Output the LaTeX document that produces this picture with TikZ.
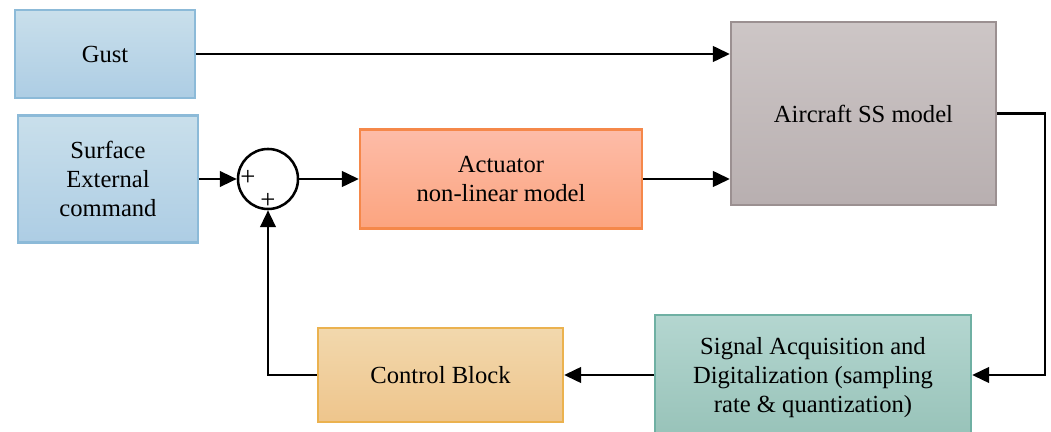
\documentclass[tikz,border=0pt]{standalone}
\usepackage{fontspec}
\setmainfont{Liberation Serif}
\usetikzlibrary{arrows.meta,calc}

\definecolor{blueTop}{HTML}{C9DFEB}
\definecolor{blueBot}{HTML}{ADCDE4}
\definecolor{blueLine}{HTML}{8CBAD8}
\definecolor{orangeTop}{HTML}{FDBCA8}
\definecolor{orangeBot}{HTML}{FCA47F}
\definecolor{orangeLine}{HTML}{F5884A}
\definecolor{grayTop}{HTML}{CDC6C6}
\definecolor{grayBot}{HTML}{B8AFB0}
\definecolor{grayLine}{HTML}{9B9091}
\definecolor{tealTop}{HTML}{B4D6D0}
\definecolor{tealBot}{HTML}{98C3B9}
\definecolor{tealLine}{HTML}{6FB0A3}
\definecolor{tanTop}{HTML}{F2D8AD}
\definecolor{tanBot}{HTML}{EEC58C}
\definecolor{tanLine}{HTML}{EBB24F}

\tikzset{
  blocktext/.style={align=center, inner sep=2pt, font=\fontsize{17.5}{20.6}\selectfont},
  block/.style={rectangle, line width=1.6pt, blocktext},
  bluebox/.style={block, draw=blueLine, top color=blueTop, bottom color=blueBot},
  orangebox/.style={block, draw=orangeLine, top color=orangeTop, bottom color=orangeBot},
  graybox/.style={block, draw=grayLine, top color=grayTop, bottom color=grayBot},
  tealbox/.style={block, draw=tealLine, top color=tealTop, bottom color=tealBot},
  tanbox/.style={block, draw=tanLine, top color=tanTop, bottom color=tanBot},
  sumnode/.style={circle, draw, line width=1.8pt, fill=white, minimum size=1.5cm, inner sep=0pt},
  sig/.style={line width=1.8pt, -{Triangle[length=12pt,width=11pt]}},
  signlabel/.style={font=\fontsize{19}{19}\selectfont, inner sep=0pt},
}

\begin{document}
\begin{tikzpicture}[x=0.025cm, y=-0.025cm]
  \useasboundingbox (0,0) rectangle (1051,432);
  \clip (0,0) rectangle (1051,432);

  % blocks
  \node[bluebox, minimum width=4.5cm, minimum height=2.2cm] (gust) at (105,54) {Gust};
  \node[bluebox, minimum width=4.5cm, minimum height=3.175cm] (surf) at (108,179)
    {Surface\\External\\command};
  \node[sumnode] (sum) at (268,179) {};
  \node[orangebox, minimum width=7.05cm, minimum height=2.475cm] (act) at (501,179)
    {Actuator\\non-linear model};
  \node[graybox, minimum width=6.625cm, minimum height=4.575cm] (air) at (863.5,113.5)
    {Aircraft SS model};
  \node[tealbox, minimum width=7.9cm, minimum height=3.0cm] (sig) at (813,375) {};
  \node[blocktext] (sigtext) at (813,378)
    {Signal Acquisition and\\Digitalization (sampling\\rate \& quantization)};
  \node[tanbox, minimum width=6.125cm, minimum height=2.35cm] (ctl) at (440.5,375)
    {Control Block};

  % signs of the summing junction
  \node[signlabel] (plusL) at (248,178) {+};
  \node[signlabel] (plusB) at (268,201) {+};

  \coordinate (turn) at (1045,0);

  % connections
  \draw[sig] (gust.east) -- (gust.east -| air.west);
  \draw[sig] (surf.east) -- (sum.west);
  \draw[sig] (sum.east) -- (act.west);
  \draw[sig] (act.east) -- (act.east -| air.west);
  \draw[sig] (air.east) -- (air.east -| turn) |- (sig.east);
  \draw[sig] (sig.west) -- (ctl.east);
  \draw[sig] (ctl.west) -| (sum.south);
\end{tikzpicture}
\end{document}
